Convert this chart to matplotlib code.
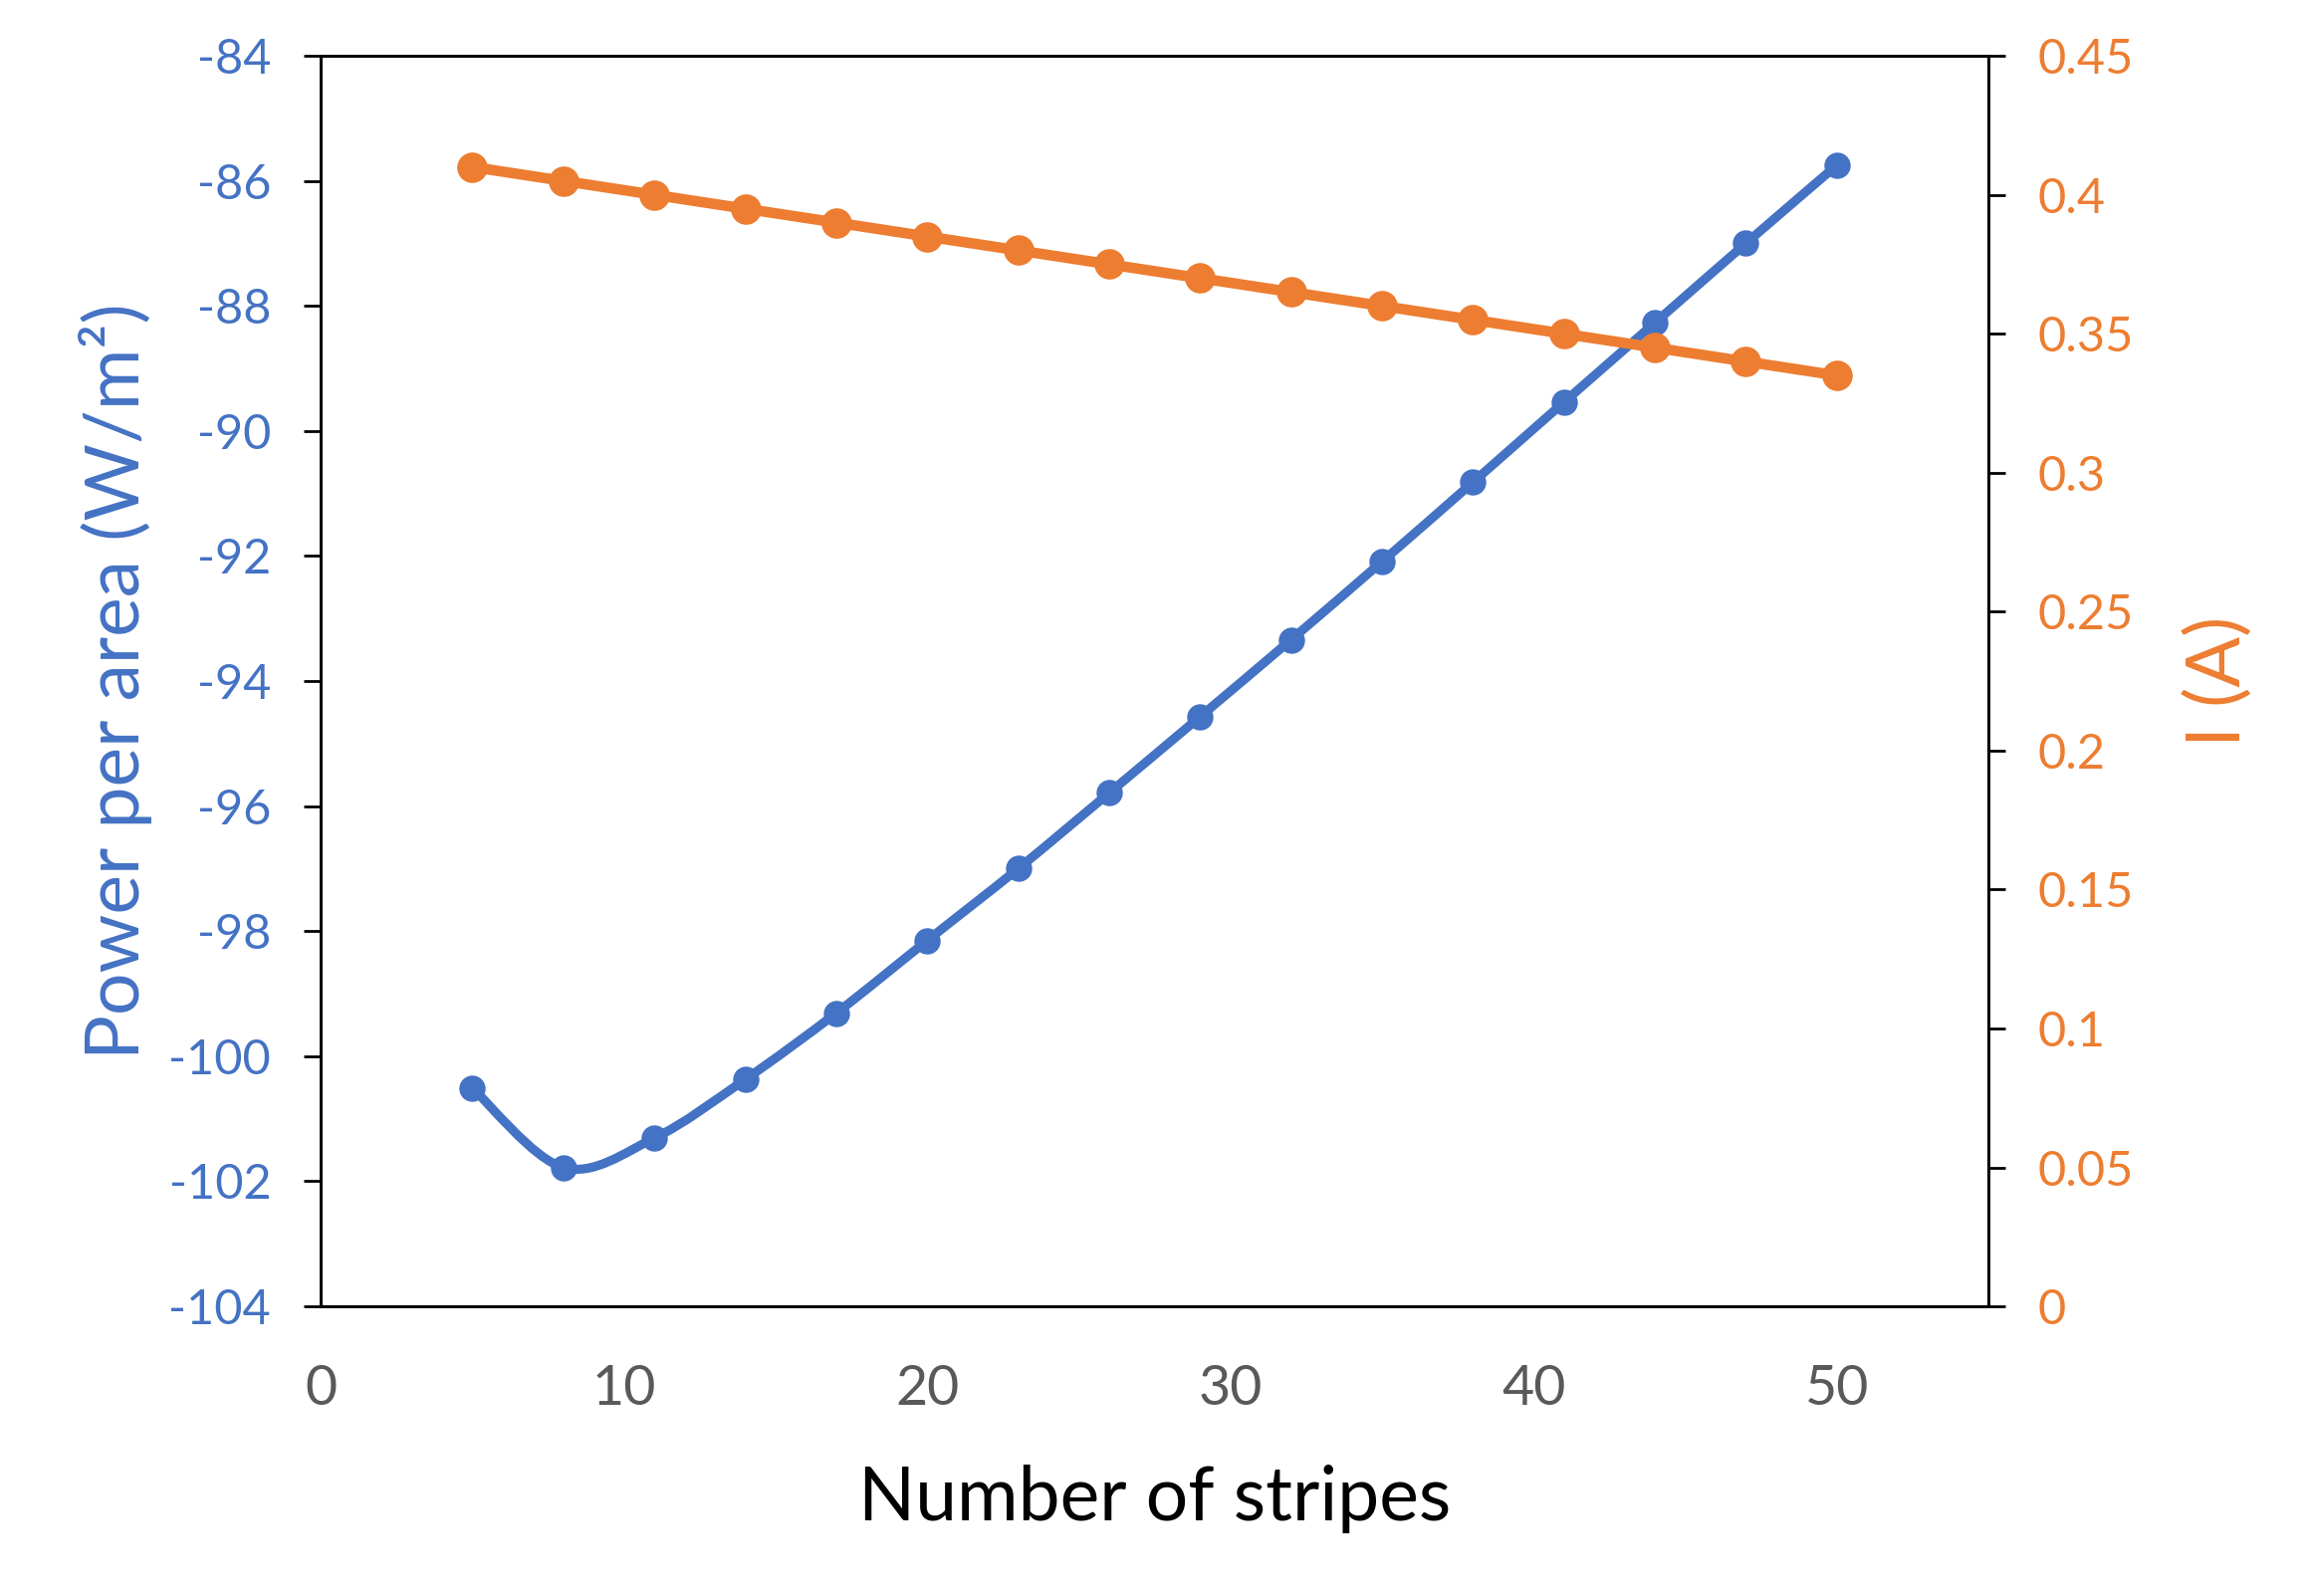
import matplotlib
matplotlib.use("Agg")
import matplotlib.pyplot as plt
import numpy as np
from matplotlib.path import Path
from matplotlib.patches import PathPatch
from matplotlib.ticker import FormatStrFormatter, MultipleLocator

# data
stripes = [5, 8, 11, 14, 17, 20, 23, 26, 29, 32, 35, 38, 41, 44, 47, 50]
power = [-100.51, -101.78, -101.31, -100.37, -99.31, -98.15, -97.0, -95.79,
         -94.57, -93.34, -92.09, -90.82, -89.54, -88.27, -87.0, -85.75]
current = [0.410, 0.405, 0.400, 0.395, 0.390, 0.385, 0.380, 0.375,
           0.370, 0.365, 0.360, 0.355, 0.350, 0.345, 0.340, 0.335]

blue = '#4472C4'
orange = '#ED7D31'

plt.rcParams['font.family'] = ['Lato', 'DejaVu Sans']
plt.rcParams['axes.unicode_minus'] = False


def smooth_path(x, y):
    # Excel-style smoothed line: Catmull-Rom turned into cubic Bezier pieces
    pts = np.column_stack([x, y]).astype(float)
    verts = [pts[0]]
    codes = [Path.MOVETO]
    n = len(pts)
    for i in range(n - 1):
        p0 = pts[max(i - 1, 0)]
        p1 = pts[i]
        p2 = pts[i + 1]
        p3 = pts[min(i + 2, n - 1)]
        c1 = p1 + (p2 - p0) / 6.0
        c2 = p2 - (p3 - p1) / 6.0
        verts += [c1, c2, p2]
        codes += [Path.CURVE4] * 3
    return Path(verts, codes)


fig = plt.figure(figsize=(11.59, 8.015), dpi=200)
ax = fig.add_axes([0.139, 0.1815, 0.7225, 0.7835])
ax2 = ax.twinx()

ax.add_patch(PathPatch(smooth_path(stripes, power), fill=False,
                       edgecolor=blue, lw=3.3, capstyle='round', joinstyle='round'))
ax.plot(stripes, power, ls='none', marker='o', ms=8.5, color=blue)

ax2.plot(stripes, current, color=orange, lw=3.8, marker='o', ms=10,
         solid_capstyle='round')

ax.set_xlim(0, 55)
ax.set_ylim(-104, -84)
ax2.set_ylim(0, 0.45)

ax.xaxis.set_major_locator(MultipleLocator(10))
ax.yaxis.set_major_locator(MultipleLocator(2))
ax2.yaxis.set_major_locator(MultipleLocator(0.05))
ax.yaxis.set_major_formatter(FormatStrFormatter('%g'))
ax2.yaxis.set_major_formatter(FormatStrFormatter('%g'))

for a in (ax, ax2):
    for s in a.spines.values():
        s.set_linewidth(1.0)
        s.set_color('black')

ax.tick_params(axis='x', length=0, pad=21, labelsize=20, labelcolor='#595959')
ax.tick_params(axis='y', length=6, width=1.0, pad=12, labelsize=17.5,
               labelcolor=blue)
ax2.tick_params(axis='y', length=6, width=1.0, pad=12, labelsize=17.5,
                labelcolor=orange)

ax.set_xlabel('Number of stripes', fontsize=27, color='black', labelpad=18)
ax.set_ylabel('Power per area (W/m²)', fontsize=27, color=blue, labelpad=6)
ax2.set_ylabel('I (A)', fontsize=27, color=orange, labelpad=18)

fig.savefig('out.png', dpi=200)
